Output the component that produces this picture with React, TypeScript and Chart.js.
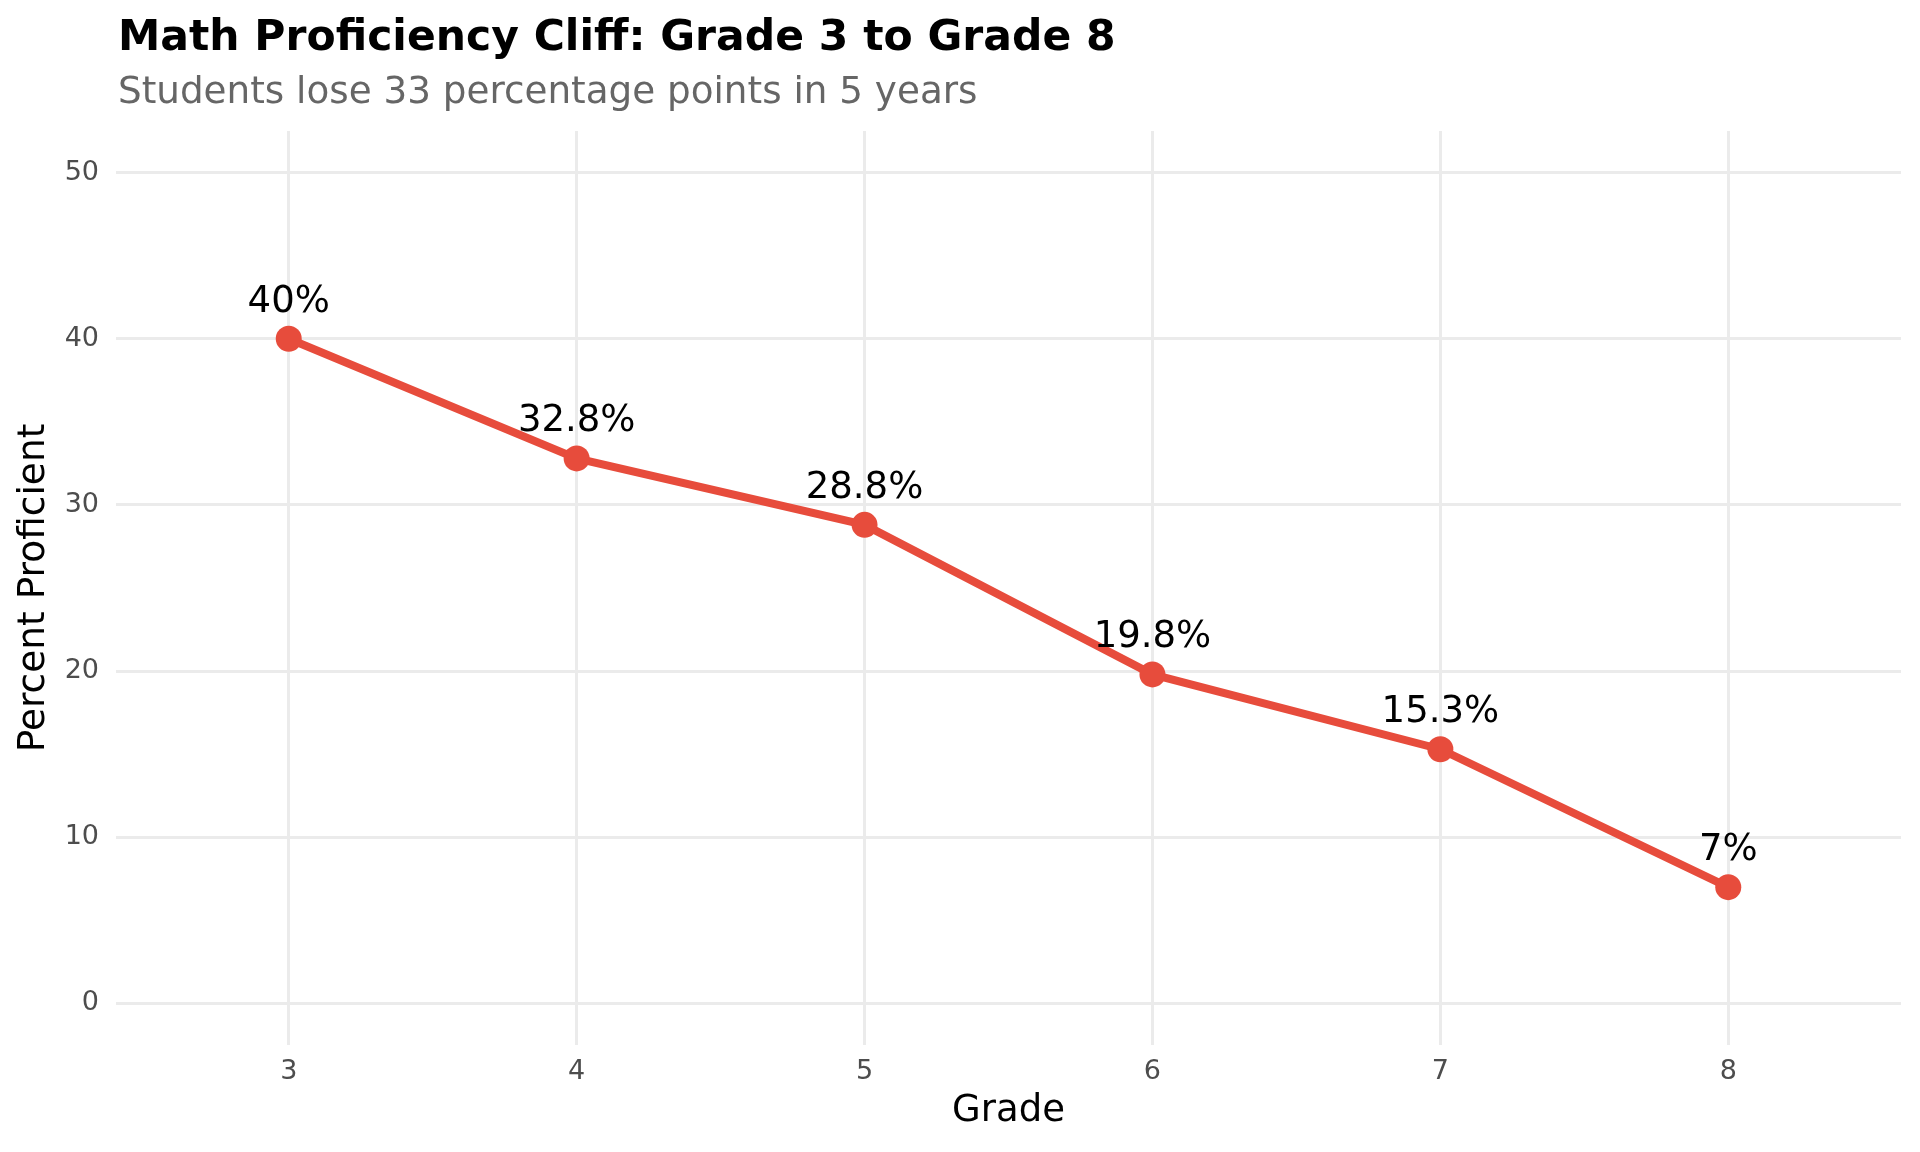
import { useEffect, useRef } from "react"
import { Chart, registerables, type ChartConfiguration, type Plugin } from "chart.js"

Chart.register(...registerables)

const grades = [3, 4, 5, 6, 7, 8]
const proficiency = [40, 32.8, 28.8, 19.8, 15.3, 7]
const pointLabels = ["40%", "32.8%", "28.8%", "19.8%", "15.3%", "7%"]
const yTicks = [0, 10, 20, 30, 40, 50]
const titleText = "Math Proficiency Cliff: Grade 3 to Grade 8"
const subtitleText = "Students lose 33 percentage points in 5 years"

const FONT = "'DejaVu Sans', sans-serif"
const RED = "#E74C3C"
const GRID = "#EBEBEB"

// title + subtitle, left aligned with the plot
const headerPlugin: Plugin<"line"> = {
  id: "header",
  afterDraw(chart) {
    const ctx = chart.ctx
    ctx.save()
    ctx.textAlign = "left"
    ctx.textBaseline = "alphabetic"
    ctx.fillStyle = "#000000"
    ctx.font = `bold 42.5px ${FONT}`
    ctx.fillText(titleText, 118, 50)
    ctx.fillStyle = "#666666"
    ctx.font = `37.3px ${FONT}`
    ctx.fillText(subtitleText, 118, 103)
    ctx.restore()
  },
}

// value labels above each point
const valueLabelPlugin: Plugin<"line"> = {
  id: "valueLabels",
  afterDatasetsDraw(chart) {
    const ctx = chart.ctx
    const meta = chart.getDatasetMeta(0)
    ctx.save()
    ctx.textAlign = "center"
    ctx.textBaseline = "alphabetic"
    ctx.fillStyle = "#000000"
    ctx.font = `37px ${FONT}`
    meta.data.forEach((pt, i) => {
      ctx.fillText(pointLabels[i], pt.x, pt.y - 27)
    })
    ctx.restore()
  },
}

export default function App() {
  const canvasRef = useRef<HTMLCanvasElement>(null)
  const chartRef = useRef<Chart | null>(null)

  useEffect(() => {
    document.body.style.margin = "0"
    document.body.style.background = "#ffffff"
    if (!canvasRef.current) return
    const ctx = canvasRef.current.getContext("2d")
    if (!ctx) return

    if (chartRef.current) chartRef.current.destroy()

    const config: ChartConfiguration<"line"> = {
      type: "line",
      data: {
        datasets: [
          {
            data: grades.map((g, i) => ({ x: g, y: proficiency[i] })),
            borderColor: RED,
            backgroundColor: RED,
            borderWidth: 8,
            pointRadius: 13,
            pointBorderWidth: 0,
            pointBackgroundColor: RED,
            tension: 0,
          },
        ],
      },
      options: {
        animation: false,
        responsive: true,
        maintainAspectRatio: false,
        devicePixelRatio: 1,
        layout: { padding: { top: 131, right: 19, left: 0, bottom: 0 } },
        plugins: {
          legend: { display: false },
          tooltip: { enabled: false },
          title: { display: false },
        },
        scales: {
          x: {
            type: "linear",
            min: 2.4,
            max: 8.6,
            afterBuildTicks: (scale) => {
              scale.ticks = grades.map((v) => ({ value: v }))
            },
            afterFit: (scale) => {
              scale.height = 107
            },
            grid: { color: GRID, lineWidth: 3, drawTicks: false },
            border: { display: false },
            ticks: {
              color: "#4D4D4D",
              font: { family: FONT, size: 27 },
              padding: 11,
              maxRotation: 0,
            },
            title: {
              display: true,
              text: "Grade",
              color: "#000000",
              font: { family: FONT, size: 37 },
              padding: { top: 0, bottom: 18 },
            },
          },
          y: {
            type: "linear",
            min: -2.5,
            max: 52.5,
            afterBuildTicks: (scale) => {
              scale.ticks = yTicks.map((v) => ({ value: v }))
            },
            afterFit: (scale) => {
              scale.width = 116
            },
            grid: { color: GRID, lineWidth: 3, drawTicks: false },
            border: { display: false },
            ticks: {
              color: "#4D4D4D",
              font: { family: FONT, size: 27 },
              padding: 17,
            },
            title: {
              display: true,
              text: "Percent Proficient",
              color: "#000000",
              font: { family: FONT, size: 37.5 },
              padding: { top: 12, bottom: 0 },
            },
          },
        },
      },
      plugins: [headerPlugin, valueLabelPlugin],
    }

    chartRef.current = new Chart(ctx, config)

    return () => {
      if (chartRef.current) {
        chartRef.current.destroy()
        chartRef.current = null
      }
    }
  }, [])

  return (
    <div style={{ width: 1920, height: 1152, position: "relative", background: "#ffffff" }}>
      <canvas ref={canvasRef}></canvas>
    </div>
  )
}
